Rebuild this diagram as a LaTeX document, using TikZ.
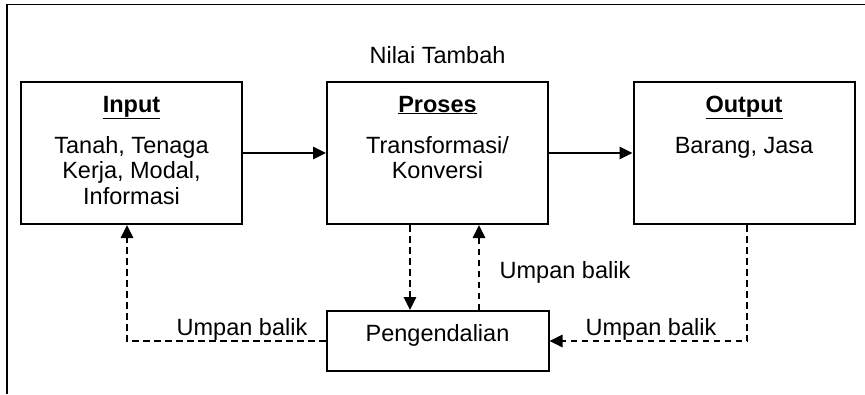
\documentclass[tikz,border=0pt]{standalone}
\usepackage{fontspec}
\setmainfont{Liberation Sans}
\usetikzlibrary{arrows.meta}
\begin{document}
\begin{tikzpicture}[x=1pt,y=-1pt,
  font=\fontsize{23.5}{25.5}\selectfont,
  blockbox/.style={draw,line width=2pt,minimum width=221pt,minimum height=142pt,inner sep=0pt},
  ctrlbox/.style={draw,line width=2pt,minimum width=222pt,minimum height=60pt,inner sep=0pt},
  flow/.style={line width=1.6pt,-{Triangle[length=13pt,width=12.5pt]}},
  fb/.style={line width=1.6pt,dash pattern=on 6.5pt off 4.5pt},
  fbarrow/.style={fb,-{Triangle[length=13pt,width=12.5pt]}},
  txt/.style={inner sep=0pt,anchor=base,align=center}]
\useasboundingbox (0,0) rectangle (865,394);

% page frame
\draw[line width=1.4pt] (865,4.5) -- (7,4.5) -- (7,394);

% main blocks
\node[blockbox] (in)  at (131.5,153) {};
\node[blockbox] (pr)  at (437.5,153) {};
\node[blockbox] (out) at (744,153) {};
\node[ctrlbox]  (ct)  at (437.5,341) {};

% texts (multi-line texts are placed by the baseline of their last line)
\node[txt] (nt) at (437.5,63) {Nilai Tambah};
\node[txt] (int) at (131.5,112) {\underline{\textbf{Input}}};
\node[txt] (inb) at (131.5,204) {Tanah, Tenaga\\Kerja, Modal,\\Informasi};
\node[txt] (prt) at (437.5,112) {\underline{\textbf{Proses}}};
\node[txt] (prb) at (437.5,178.5) {Transformasi/\\Konversi};
\node[txt] (ott) at (744,112) {\underline{\textbf{Output}}};
\node[txt] (otb) at (744,153) {Barang, Jasa};
\node[txt] (ctt) at (437.5,341) {Pengendalian};
\node[txt] (fbm) at (565,278) {Umpan balik};
\node[txt] (fbl) at (242,335) {Umpan balik};
\node[txt] (fbr) at (651,335) {Umpan balik};

% main flow
\draw[flow] (in.east) -- (pr.west);
\draw[flow] (pr.east) -- (out.west);

% control loop
\draw[fbarrow] ([xshift=-27.5pt]pr.south) -- ([xshift=-27.5pt]ct.north);
\draw[fbarrow] ([xshift=41.5pt]ct.north) -- ([xshift=41.5pt]pr.south);
\draw[fbarrow] (ct.west) -| ([xshift=-4.5pt]in.south);
\draw[fbarrow] ([xshift=3pt]out.south) |- (ct.east);
\end{tikzpicture}
\end{document}
